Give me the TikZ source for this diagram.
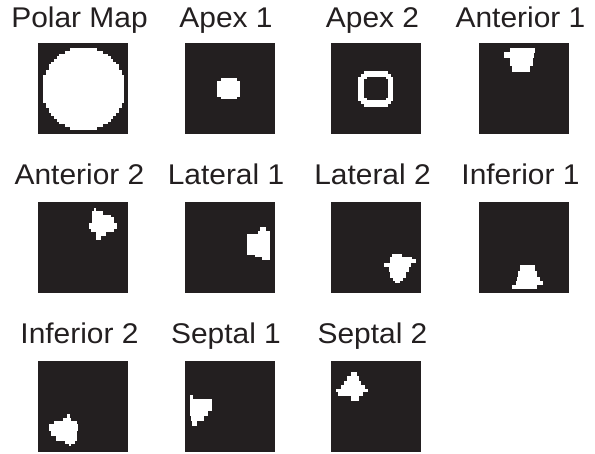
\documentclass[tikz,border=0pt]{standalone}
\usepackage{fontspec}
\setmainfont{Liberation Sans}
\definecolor{ink}{RGB}{35,31,32}
\newcommand\blobrows[1]{\foreach \ya/\yb/\xa/\xb in {#1} {\fill[white] (\xa,\ya) rectangle (\xb,\yb+0.4);}}
\begin{document}
\begin{tikzpicture}[x=1pt,y=-1pt,
  panel/.style={draw=none,fill=ink,minimum width=90pt,minimum height=91pt,inner sep=0pt,outer sep=0pt,anchor=north west},
  ttl/.style={anchor=base,inner sep=0pt,text=ink,font=\fontsize{28.5}{30}\selectfont,xscale=1.05}]
\useasboundingbox (0,0) rectangle (595,454);
\fill[white] (0,0) rectangle (595,454);
% panels
\node[panel] (p1) at (38,43) {};
\node[panel] (p2) at (184.5,43) {};
\node[panel] (p3) at (331,43) {};
\node[panel] (p4) at (479,43) {};
\node[panel] (p5) at (38,202) {};
\node[panel] (p6) at (184.5,202) {};
\node[panel] (p7) at (331,202) {};
\node[panel] (p8) at (479,202) {};
\node[panel] (p9) at (38,361) {};
\node[panel] (p10) at (184.5,361) {};
\node[panel] (p11) at (331,361) {};
% titles
\node[ttl] (t1) at (79.5,27.3) {Polar Map};
\node[ttl] (t2) at (226,27.3) {Apex 1};
\node[ttl] (t3) at (372.5,27.3) {Apex 2};
\node[ttl] (t4) at (520.5,27.3) {Anterior 1};
\node[ttl] (t5) at (79.5,184.3) {Anterior 2};
\node[ttl] (t6) at (226,184.3) {Lateral 1};
\node[ttl] (t7) at (372.5,184.3) {Lateral 2};
\node[ttl] (t8) at (520.5,184.3) {Inferior 1};
\node[ttl] (t9) at (79.5,343.5) {Inferior 2};
\node[ttl] (t10) at (226,343.5) {Septal 1};
\node[ttl] (t11) at (372.5,343.5) {Septal 2};
% Polar map: pixelated disc
\begin{scope}[shift={(p1.north west)}]
\foreach \k in {0,...,29} {
  \pgfmathsetmacro\ytop{5.3+\k*2.7}
  \pgfmathsetmacro\yc{\ytop+1.35-45.8}
  \pgfmathsetmacro\hw{2.7*round(sqrt(41.5*41.5-\yc*\yc)/2.7)}
  \fill[white] (45.7-\hw,\ytop) rectangle (45.7+\hw,\ytop+3.1);
}
\end{scope}
% Apex 1
\begin{scope}[shift={(p2.north west)}]
\blobrows{35/38.3/36.7/52.3, 38.3/53.3/32.3/55.7, 53.3/56/36.7/52.3}
\end{scope}
% Apex 2 ring
\begin{scope}[shift={(p3.north west)}]
\blobrows{28.3/31/33/57, 31/34/30/60, 34/57.5/27.3/62.3, 57.5/60.5/30/60, 60.5/63.3/33/57}
\fill[ink] (36,34.3) rectangle (54.5,36.7);
\fill[ink] (33.3,36.5) rectangle (56.7,55.2);
\fill[ink] (36,55) rectangle (54.5,57.3);
\end{scope}
% Anterior 1
\begin{scope}[shift={(p4.north west)}]
\blobrows{5/9.3/31/56, 9.3/15/25.3/55, 15/22.7/31/53.5, 22.7/28.3/33.3/51}
\end{scope}
% Anterior 2
\begin{scope}[shift={(p5.north west)}]
\blobrows{5.8/9.5/56/58.3, 9.5/12.9/54.2/65, 12.9/15.3/54.2/72.9, 15.3/21/54.2/76.3, 21/26.4/50.8/79, 26.4/29.8/52.5/76.3, 29.8/33.2/58/68, 33.2/38/58.3/62.7}
\end{scope}
% Lateral 1
\begin{scope}[shift={(p6.north west)}]
\blobrows{25.4/28.8/75.6/81.4, 28.8/32.2/73.9/85.8, 32.2/52.5/62/85.8, 52.5/54.2/70.5/85.8, 54.2/57.6/77.9/85.8}
\end{scope}
% Lateral 2
\begin{scope}[shift={(p7.north west)}]
\blobrows{51.9/55.3/61/71.2, 55.3/57/59.3/81.4, 57/61/59.3/84.7, 61/64.4/53.2/79.7, 64.4/69.5/57.6/78, 69.5/75.3/59.3/74.6, 75.3/78.6/62/72.2, 78.6/80.7/64.4/68.8}
\end{scope}
% Inferior 1
\begin{scope}[shift={(p8.north west)}]
\blobrows{63.4/69.5/40.7/55.9, 69.5/75.3/39/58.3, 75.3/78.6/38/61, 78.6/83/37.3/64.4, 83/87.1/33.2/57.6}
\end{scope}
% Inferior 2
\begin{scope}[shift={(p9.north west)}]
\blobrows{53.3/56.7/29.3/31.7, 56.7/60/25/33.3, 60/63.3/16/39, 63.3/70/11/40, 70/75/13.3/39, 75/80/18.3/39, 80/82.3/26.7/37.3, 82.3/85/30.7/33.3}
\end{scope}
% Septal 1
\begin{scope}[shift={(p10.north west)}]
\blobrows{34/38.3/5/8.3, 38.3/50/5/27.7, 50/55/5/23.3, 55/60/6/19, 60/64.3/7.3/12.7}
\end{scope}
% Septal 2
\begin{scope}[shift={(p11.north west)}]
\blobrows{11/15/20/26, 15/20/16/28.3, 20/24/12.7/30, 24/28.3/10/34, 28.3/30.7/5/36.7, 30.7/35/6.7/31.7, 35/39.3/20/28.3}
\end{scope}
\end{tikzpicture}
\end{document}
